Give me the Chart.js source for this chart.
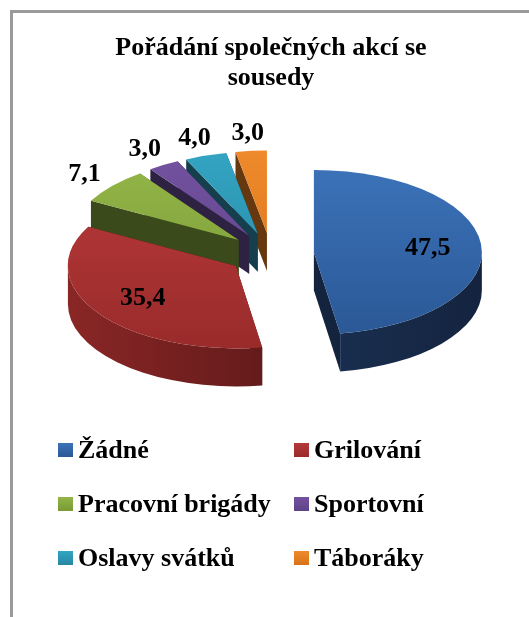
<!DOCTYPE html>
<html lang="cs">
<head>
<meta charset="UTF-8">
<title>Pořádání společných akcí se sousedy</title>
<script src="https://cdn.jsdelivr.net/npm/chart.js"></script>
<style>
    html, body { margin: 0; padding: 0; background: #fff; overflow: hidden; }
    #frame {
        position: absolute; left: 10px; top: 10px; width: 530px; height: 620px;
        border-left: 3px solid #9a9a9a; border-top: 3px solid #9a9a9a;
    }
    #pie { position: absolute; left: 0; top: 0; }
    #legend {
        position: absolute; left: 45px; top: 410px;
        display: grid; grid-template-columns: 236px 236px; grid-auto-rows: 54px;
        font: bold 26px 'Liberation Serif', 'Times New Roman', serif; color: #000;
    }
    .item { display: flex; align-items: center; white-space: nowrap; }
    .box { width: 15px; height: 14px; margin-right: 5px; flex: none; }
</style>
</head>
<body>
<div id="frame">
    <canvas id="pie" width="520" height="604"></canvas>
    <div id="legend"></div>
</div>

<script>
    const categories = ['Žádné', 'Grilování', 'Pracovní brigády', 'Sportovní', 'Oslavy svátků', 'Táboráky'];
    const shares = [47.5, 35.4, 7.1, 3.0, 4.0, 3.0];
    const titleLines = ['Pořádání společných akcí se', 'sousedy'];

    // colours: top face (light -> dark), outer wall (light -> dark), cut side
    const faceTop = ['#3b72b8', '#b53838', '#93b548', '#7352a0', '#33a4c2', '#ee8a2c'];
    const faceBottom = ['#2b5896', '#9a2b2b', '#7a9a35', '#5e4287', '#2688a3', '#d9711a'];
    const wallLight = ['#1f3a63', '#8a2626', '#4a5e22', '#3a2a55', '#1c5466', '#7a4412'];
    const wallDark = ['#14243f', '#4a1313', '#3a4a1a', '#2e2243', '#163f4e', '#66380f'];

    const TILT = 0.49;   // vertical squash of the pie
    const DEPTH = 38;    // thickness of the 3d pie

    function fmt(v) {
        return v.toFixed(1).replace('.', ',');
    }

    function drawSlice(ctx, arc, i) {
        const s = arc.startAngle, e = arc.endAngle, r = arc.outerRadius;
        const mid = (s + e) / 2, off = arc.options.offset;
        const cx = arc.x + Math.cos(mid) * off;
        const cy = arc.y + Math.sin(mid) * off * TILT;
        const ry = r * TILT;
        const px = a => cx + Math.cos(a) * r;
        const py = a => cy + Math.sin(a) * ry;

        // cut sides, the ones facing away first
        const cuts = [{ a: s, front: Math.cos(s) < 0 }, { a: e, front: Math.cos(e) > 0 }];
        cuts.sort((u, v) => u.front - v.front);
        cuts.forEach(c => {
            ctx.beginPath();
            ctx.moveTo(cx, cy);
            ctx.lineTo(px(c.a), py(c.a));
            ctx.lineTo(px(c.a), py(c.a) + DEPTH);
            ctx.lineTo(cx, cy + DEPTH);
            ctx.closePath();
            ctx.fillStyle = wallDark[i];
            ctx.fill();
        });

        // outer wall, only the front half shows
        const a0 = Math.max(s, 0), a1 = Math.min(e, Math.PI);
        if (a1 > a0) {
            const g = ctx.createLinearGradient(cx - r, 0, cx + r, 0);
            g.addColorStop(0, wallLight[i]);
            g.addColorStop(1, wallDark[i]);
            ctx.beginPath();
            ctx.ellipse(cx, cy, r, ry, 0, a0, a1);
            ctx.ellipse(cx, cy + DEPTH, r, ry, 0, a1, a0, true);
            ctx.closePath();
            ctx.fillStyle = g;
            ctx.fill();
        }

        // top face
        const g2 = ctx.createLinearGradient(0, cy - ry, 0, cy + ry);
        g2.addColorStop(0, faceTop[i]);
        g2.addColorStop(1, faceBottom[i]);
        ctx.beginPath();
        ctx.moveTo(cx, cy);
        ctx.ellipse(cx, cy, r, ry, 0, s, e);
        ctx.closePath();
        ctx.fillStyle = g2;
        ctx.fill();
    }

    const pie3d = {
        id: 'pie3d',
        beforeDatasetDraw(chart, args) {
            const ctx = chart.ctx;
            const arcs = args.meta.data;
            const midSin = a => Math.sin((a.startAngle + a.endAngle) / 2);
            const order = arcs.map((a, i) => i).sort((i, j) => midSin(arcs[i]) - midSin(arcs[j]));

            ctx.save();
            order.forEach(i => drawSlice(ctx, arcs[i], i));

            // value labels
            ctx.font = "bold 26px 'Liberation Serif', 'Times New Roman', serif";
            ctx.fillStyle = '#000';
            ctx.textAlign = 'center';
            ctx.textBaseline = 'middle';
            arcs.forEach((arc, i) => {
                const mid = (arc.startAngle + arc.endAngle) / 2;
                const rho = arc.options.offset + arc.outerRadius * (shares[i] >= 10 ? 0.68 : 1.22);
                const x = arc.x + Math.cos(mid) * rho;
                const y = arc.y + Math.sin(mid) * rho * TILT;
                ctx.fillText(fmt(shares[i]), x, y);
            });
            ctx.restore();
            return false;
        }
    };

    new Chart(document.getElementById('pie'), {
        type: 'pie',
        data: {
            labels: categories,
            datasets: [{
                data: shares,
                backgroundColor: faceTop,
                borderWidth: 0,
                offset: 43
            }]
        },
        options: {
            responsive: false,
            animation: false,
            events: [],
            radius: 168,
            layout: { padding: { left: 0, right: 4, top: 0, bottom: 212 } },
            plugins: {
                legend: { display: false },
                tooltip: { enabled: false },
                title: {
                    display: true,
                    text: titleLines,
                    color: '#000',
                    font: { family: "'Liberation Serif', 'Times New Roman', serif", size: 26, weight: 'bold', lineHeight: 1.15 },
                    padding: { top: 20, bottom: 10 }
                }
            }
        },
        plugins: [pie3d]
    });

    // legend in two columns like the original
    const legend = document.getElementById('legend');
    categories.forEach((name, i) => {
        const item = document.createElement('div');
        item.className = 'item';
        const box = document.createElement('span');
        box.className = 'box';
        box.style.background = 'linear-gradient(' + faceTop[i] + ', ' + faceBottom[i] + ')';
        item.appendChild(box);
        item.appendChild(document.createTextNode(name));
        legend.appendChild(item);
    });
</script>
</body>
</html>
